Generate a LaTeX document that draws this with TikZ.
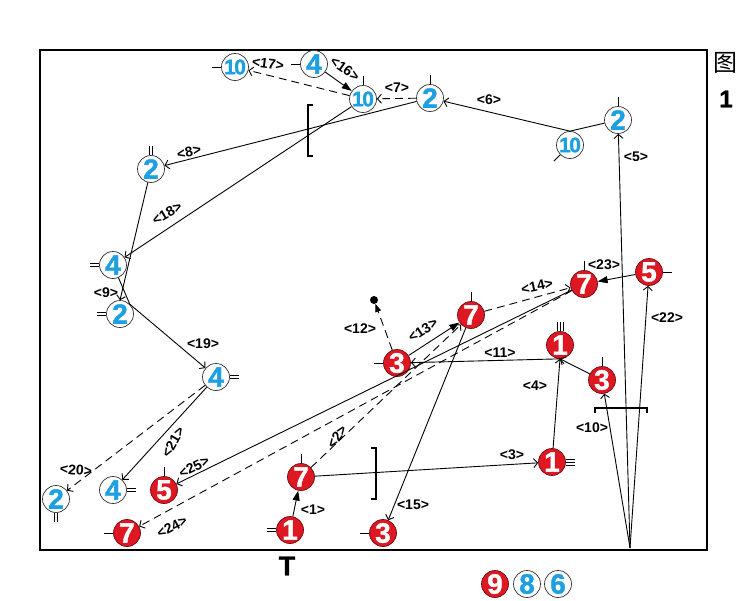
\documentclass[tikz,border=0pt]{standalone}
\usepackage{fontspec}
\setmainfont{Liberation Sans}
\newfontfamily\cjk{Noto Sans CJK SC}
\newfontfamily\heavy{Liberation Sans}[BoldFont={Liberation Sans Bold}, BoldFeatures={FakeBold=1.2}]
\usetikzlibrary{arrows.meta}
\definecolor{plred}{RGB}{222,24,34}
\definecolor{plblue}{RGB}{28,160,226}
\tikzset{
  player/.style={circle, minimum size=27pt, inner sep=0pt, line width=0.7pt,
    font=\heavy\fontsize{28}{28}\selectfont\bfseries},
  bl/.style={player, draw=black!80, fill=white, text=plblue},
  rd/.style={player, draw=black!50!plred, fill=plred, text=white},
  lbl/.style={font=\fontsize{14}{14}\selectfont\bfseries, inner sep=0pt},
  pass/.style={line width=0.9pt, -{Straight Barb[length=4pt,width=9pt]}},
  run/.style={pass, dash pattern=on 8pt off 5pt},
  drib/.style={line width=0.9pt, -{Triangle[length=10pt,width=7pt]}},
  tickline/.style={line width=0.9pt},
}
\newcommand{\ten}{\fontsize{21}{21}\selectfont 1\kern-1.5pt0}
\begin{document}
\begin{tikzpicture}[x=1pt,y=-1pt]
\useasboundingbox (0,0) rectangle (747,600);
\draw[line width=2.5pt] (40,50) rectangle (707,550);
\node[font=\cjk\fontsize{24}{24}\selectfont] (fig) at (725,63) {图};
\node[font=\heavy\fontsize{24}{24}\selectfont\bfseries] (fignum) at (726,99) {1};
\node[font=\heavy\fontsize{27}{27}\selectfont\bfseries] (tee) at (287,566) {T};
% blue players
\node[bl] (bl10a) at (235,67) {\ten};
\node[bl] (bl4a) at (314,64) {4};
\node[bl] (bl10b) at (363,99) {\ten};
\node[bl] (bl2a) at (430,98) {2};
\node[bl] (bl10c) at (570,145) {\ten};
\node[bl] (bl2b) at (618,120) {2};
\node[bl] (bl2c) at (151,169) {2};
\node[bl] (bl4b) at (113,265) {4};
\node[bl] (bl2d) at (120,314) {2};
\node[bl] (bl4c) at (216,377) {4};
\node[bl] (bl4d) at (113,490) {4};
\node[bl] (bl2e) at (56,499) {2};
% red players
\node[rd] (rd7a) at (584,284) {7};
\node[rd] (rd5a) at (649,272) {5};
\node[rd] (rd7b) at (471,315) {7};
\node[rd] (rd3a) at (397,363) {3};
\node[rd] (rd1a) at (560,345) {1};
\node[rd] (rd3b) at (602,380) {3};
\node[rd] (rd1b) at (552,462) {1};
\node[rd] (rd7c) at (301,477) {7};
\node[rd] (rd5b) at (164,490) {5};
\node[rd] (rd7d) at (127,533) {7};
\node[rd] (rd1c) at (290,530) {1};
\node[rd] (rd3c) at (383,533) {3};
% legend
\node[rd] (lg9) at (495,584) {9};
\node[bl] (lg8) at (527,584) {8};
\node[bl] (lg6) at (558,584) {6};
% ball and source
\node[circle, fill=black, inner sep=0pt, minimum size=8pt] (ball) at (374,300) {};
\coordinate (src) at (630,548);
% ticks
\foreach \n/\a in {bl10a/180, bl4a/180, bl10b/90, bl2a/90, bl10c/225, bl2b/90,
    rd7a/90, rd5a/0, rd7b/90, rd3a/180, rd3b/90, rd7c/90, rd5b/90, rd7d/180, rd3c/180}
  \draw[tickline] (\n.\a) -- ++(\a:9pt);
\foreach \n/\a in {bl2c/90, bl4b/180, bl2d/180, bl4c/0, bl4d/0, bl2e/270, rd1c/180}
  \draw[tickline] ([shift={(\a+90:1.7pt)}]\n.\a) -- ++(\a:9pt)
    ([shift={(\a-90:1.7pt)}]\n.\a) -- ++(\a:9pt);
\foreach \n/\a in {rd1a/90, rd1b/0}
  \draw[tickline] ([shift={(\a+90:3pt)}]\n.\a) -- ++(\a:9pt)
    (\n.\a) -- ++(\a:9pt) ([shift={(\a-90:3pt)}]\n.\a) -- ++(\a:9pt);
% brackets
\draw[line width=1.2pt] (313,105) -- (308,105) -- (308,156) -- (313,156);
\draw[line width=1.2pt] (371,448) -- (376,448) -- (376,499) -- (371,499);
\draw[line width=1.2pt] (595,413) -- (595,408) -- (647,408) -- (647,413);
% moves
\draw[drib] (rd1c) -- (rd7c);
\draw[run] (rd7c) -- (rd7b);
\draw[pass] (rd7c) -- (rd1b);
\draw[pass] (rd1b) -- (rd1a.south);
\draw[pass] (src) -- (bl2b);
\draw[pass] (bl2b) -- (bl10c.north) -- (bl2a);
\draw[run] (bl2a) -- (bl10b);
\draw[pass] (bl2a) -- (bl2c);
\draw[pass] (bl2c) -- (bl2d.north);
\draw[pass] (src) -- (rd3b);
\draw[pass] (rd3b) -- (rd1a.south);
\draw[pass] (rd1a.south) -- (rd3a);
\draw[dash pattern=on 8pt off 5pt, line width=0.9pt, -{Triangle[length=8pt,width=6pt]}] (rd3a) -- (ball);
\draw[drib] (rd3a) -- (rd7b);
\draw[run] (rd7b) -- (rd7a);
\draw[pass] (rd7b) -- (rd3c);
\draw[drib] (bl4a) -- (bl10b);
\draw[run] (bl10b) -- (bl10a);
\draw[pass] (bl10b) -- (bl4b);
\draw[pass] (bl4b) -- (bl2d.north east) -- (bl4c);
\draw[run] (bl4c) -- (bl2e);
\draw[pass] (bl4c) -- (bl4d);
\draw[pass] (src) -- (rd5a);
\draw[drib] (rd5a) -- (rd7a);
\draw[run] (rd7a) -- (rd7d);
\draw[pass] (rd7a) -- (rd5b);
% labels
\node[lbl] (l1) at (313,510) {<1>};
\node[lbl, rotate=55] (l2) at (337,437) {<2>};
\node[lbl] (l3) at (512,455) {<3>};
\node[lbl] (l4) at (535,386) {<4>};
\node[lbl] (l5) at (636,157) {<5>};
\node[lbl] (l6) at (489,100) {<6>};
\node[lbl] (l7) at (397,88) {<7>};
\node[lbl, rotate=12] (l8) at (189,152) {<8>};
\node[lbl] (l9) at (106,293) {<9>};
\node[lbl] (l10) at (592,428) {<10>};
\node[lbl] (l11) at (500,353) {<11>};
\node[lbl] (l12) at (360,329) {<12>};
\node[lbl, rotate=33] (l13) at (423,330) {<13>};
\node[lbl, rotate=12] (l14) at (537,286) {<14>};
\node[lbl] (l15) at (413,505) {<15>};
\node[lbl, rotate=-35] (l16) at (345,69) {<16>};
\node[lbl, rotate=-8] (l17) at (268,64) {<17>};
\node[lbl, rotate=30] (l18) at (167,213) {<18>};
\node[lbl] (l19) at (203,344) {<19>};
\node[lbl, rotate=-5] (l20) at (76,470) {<20>};
\node[lbl, rotate=60] (l21) at (173,442) {<21>};
\node[lbl] (l22) at (667,318) {<22>};
\node[lbl] (l23) at (604,265) {<23>};
\node[lbl, rotate=28] (l24) at (172,527) {<24>};
\node[lbl, rotate=26] (l25) at (194,467) {<25>};
\end{tikzpicture}
\end{document}
